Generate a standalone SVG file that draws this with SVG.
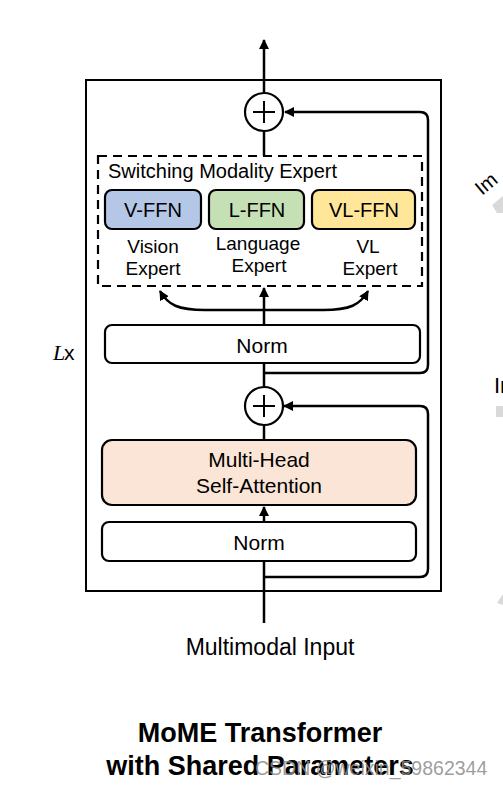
<svg xmlns="http://www.w3.org/2000/svg" width="503" height="786" viewBox="0 0 503 786">
<defs>
<marker id="ah" markerWidth="10" markerHeight="10" refX="9" refY="5" orient="auto" markerUnits="userSpaceOnUse">
<path d="M0,0 L10,5 L0,10 z" fill="#000"/>
</marker>
<style>
.t{font-family:"Liberation Sans",Arial,sans-serif;fill:#000;text-anchor:middle}
.box{stroke:#000;stroke-width:2.2}
.ln{stroke:#000;stroke-width:2.5;fill:none}
</style>
</defs>
<rect width="503" height="786" fill="#fff"/>
<g id="outer"><rect x="86" y="80" width="355" height="511" fill="none" stroke="#000" stroke-width="2"/></g>
<g id="lx"><text x="53" y="360" font-family="'Liberation Serif',serif" font-style="italic" font-size="22">L</text><text x="64" y="360" font-family="'Liberation Sans',Arial,sans-serif" font-size="21">x</text></g>
<g id="connectors">
<line class="ln" x1="264" y1="93" x2="264" y2="40" marker-end="url(#ah)"/>
<line class="ln" x1="264" y1="131" x2="264" y2="156"/>
<path class="ln" d="M264,373 H420 Q428,373 428,365 V120 Q428,112 420,112 H285" marker-end="url(#ah)"/>
<line class="ln" x1="264" y1="325" x2="264" y2="288" marker-end="url(#ah)"/>
<path class="ln" d="M264,310 H205 C178,310 168,305 160,291" marker-end="url(#ah)"/>
<path class="ln" d="M264,310 H323 C350,310 360,305 368,291" marker-end="url(#ah)"/>
<line class="ln" x1="264" y1="363" x2="264" y2="387"/>
<line class="ln" x1="264" y1="425" x2="264" y2="440"/>
<path class="ln" d="M264,577 H420 Q428,577 428,569 V414 Q428,406 420,406 H284" marker-end="url(#ah)"/>
<line class="ln" x1="264" y1="522" x2="264" y2="507" marker-end="url(#ah)"/>
<line class="ln" x1="264" y1="623" x2="264" y2="561"/>
</g>
<g id="add1"><circle cx="264" cy="112" r="19" fill="#fff" stroke="#000" stroke-width="2.2"/><path d="M253,112 H275 M264,101 V123" stroke="#000" stroke-width="2"/></g>
<g id="expert-group"><rect x="98" y="156" width="324" height="130" fill="none" stroke="#000" stroke-width="2.2" stroke-dasharray="9,6"/><text x="108" y="178" font-family="'Liberation Sans',Arial,sans-serif" font-size="20">Switching Modality Expert</text></g>
<g id="v-ffn"><rect class="box" x="105" y="190" width="96" height="39" rx="7" fill="#b4c7e7"/><text class="t" x="153" y="217" font-size="20">V-FFN</text><text class="t" x="153" y="253" font-size="19">Vision</text><text class="t" x="153" y="275" font-size="19">Expert</text></g>
<g id="l-ffn"><rect class="box" x="209" y="190" width="95" height="39" rx="7" fill="#c5e0b4"/><text class="t" x="257" y="217" font-size="20">L-FFN</text><text class="t" x="258" y="250" font-size="19">Language</text><text class="t" x="259" y="272" font-size="19">Expert</text></g>
<g id="vl-ffn"><rect class="box" x="312" y="190" width="103" height="39" rx="7" fill="#ffe699"/><text class="t" x="364" y="217" font-size="20">VL-FFN</text><text class="t" x="368" y="253" font-size="19">VL</text><text class="t" x="370" y="275" font-size="19">Expert</text></g>
<g id="norm1"><rect class="box" x="105" y="325" width="315" height="38" rx="7" fill="#fff"/><text class="t" x="262" y="353" font-size="21">Norm</text></g>
<g id="add2"><circle cx="264" cy="406" r="19" fill="#fff" stroke="#000" stroke-width="2.2"/><path d="M253,406 H275 M264,395 V417" stroke="#000" stroke-width="2"/></g>
<g id="mhsa"><rect class="box" x="102" y="440" width="314" height="65" rx="10" fill="#fbe5d6"/><text class="t" x="259" y="467" font-size="21">Multi-Head</text><text class="t" x="259" y="493" font-size="21">Self-Attention</text></g>
<g id="norm2"><rect class="box" x="102" y="522" width="314" height="39" rx="7" fill="#fff"/><text class="t" x="259" y="550" font-size="21">Norm</text></g>
<g id="input-label"><text class="t" x="270" y="655" font-size="23">Multimodal Input</text></g>
<g id="title"><text class="t" x="260" y="742" font-size="27" font-weight="bold">MoME Transformer</text><text class="t" x="260" y="775" font-size="27" font-weight="bold">with Shared Parameters</text></g>
<g id="watermark"><text x="255" y="775" font-family="'Liberation Sans',Arial,sans-serif" font-size="19.5" fill="#8c8c8c" fill-opacity="0.85">CSDN @weixin_59862344</text></g>
<g id="edge-fragments">
<text x="482" y="196" font-family="'Liberation Sans',Arial,sans-serif" font-size="20" transform="rotate(-40 482 196)">Im</text>
<path d="M492,205 L503,196 L503,213 L497,213 z" fill="#d9d9d9"/>
<text x="494" y="393" font-family="'Liberation Sans',Arial,sans-serif" font-size="22">In</text>
<rect x="496" y="406" width="7" height="11" fill="#d9d9d9"/>
<path d="M497,603 L503,594 L503,605 z" fill="#d9d9d9"/>
</g>
</svg>
